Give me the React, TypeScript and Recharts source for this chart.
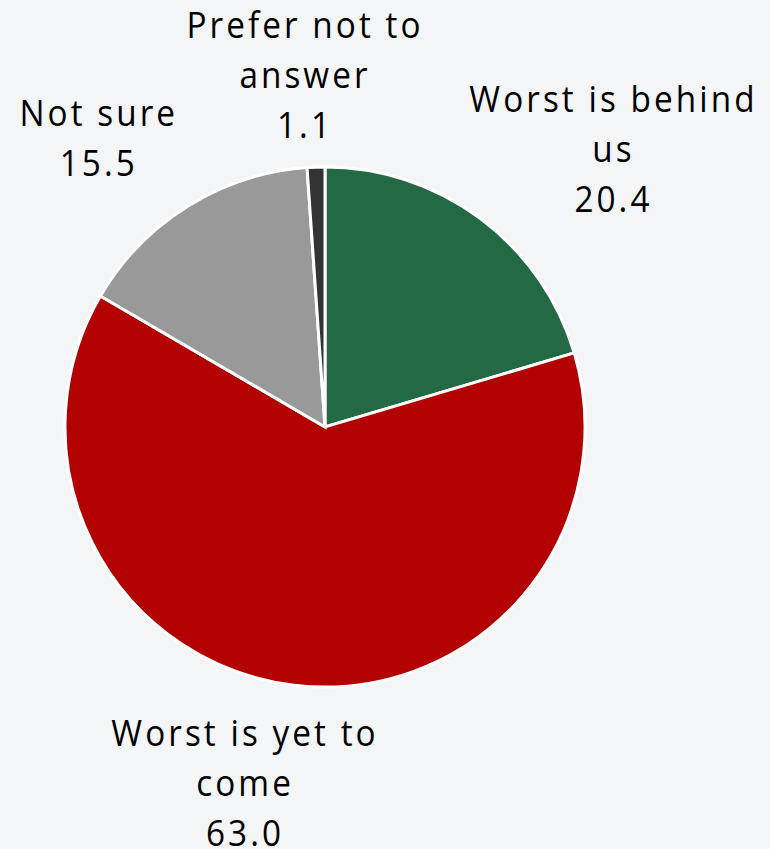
import React from "react";
import { PieChart, Pie, Cell } from "recharts";

const categories = ["Worst is behind us", "Worst is yet to come", "Not sure", "Prefer not to answer"];
const labelLines = [["Worst is behind", "us"], ["Worst is yet to", "come"], ["Not sure"], ["Prefer not to", "answer"]];
const values = [20.4, 63.0, 15.5, 1.1];
const colors = ["#236944", "#b30000", "#999999", "#333333"];
// label block offsets from slice edge point (dx, dy)
const labelOffsets = [[133, -69], [-49, 99], [-89, -67], [-11, -91]];

const data = categories.map((name, i) => ({ name, value: values[i] }));

const RAD = Math.PI / 180;
const FONT = "'Open Sans', 'Noto Sans', sans-serif";
const LINE_H = 50;

const renderLabel = (props: any) => {
  const { cx, cy, midAngle, outerRadius, index } = props;
  const ex = cx + outerRadius * Math.cos(-midAngle * RAD);
  const ey = cy + outerRadius * Math.sin(-midAngle * RAD);
  const [dx, dy] = labelOffsets[index];
  const x = ex + dx;
  const y = ey + dy;
  const lines = [...labelLines[index], values[index].toFixed(1)];
  const n = lines.length;
  return (
    <g key={`lbl-${index}`}>
      {lines.map((t, i) => (
        <text
          key={i}
          transform={`translate(${x},${y + (i - (n - 1) / 2) * LINE_H + 12}) scale(0.9,1)`}
          textAnchor="middle"
          fontFamily={FONT}
          fontSize={37}
          letterSpacing={3.4}
          fill="#000"
        >
          {t}
        </text>
      ))}
    </g>
  );
};

export default function App() {
  return (
    <div style={{ position: "absolute", left: 0, top: 0, width: 770, height: 849, background: "#f4f5f6" }}>
      <PieChart width={770} height={849} margin={{ top: 0, right: 0, bottom: 0, left: 0 }}>
        <Pie
          data={data}
          dataKey="value"
          nameKey="name"
          cx={325}
          cy={427}
          outerRadius={260}
          startAngle={90}
          endAngle={-270}
          stroke="#ffffff"
          strokeWidth={3}
          label={renderLabel}
          labelLine={false}
          isAnimationActive={false}
        >
          {data.map((d, i) => (
            <Cell key={d.name} fill={colors[i]} />
          ))}
        </Pie>
      </PieChart>
    </div>
  );
}
